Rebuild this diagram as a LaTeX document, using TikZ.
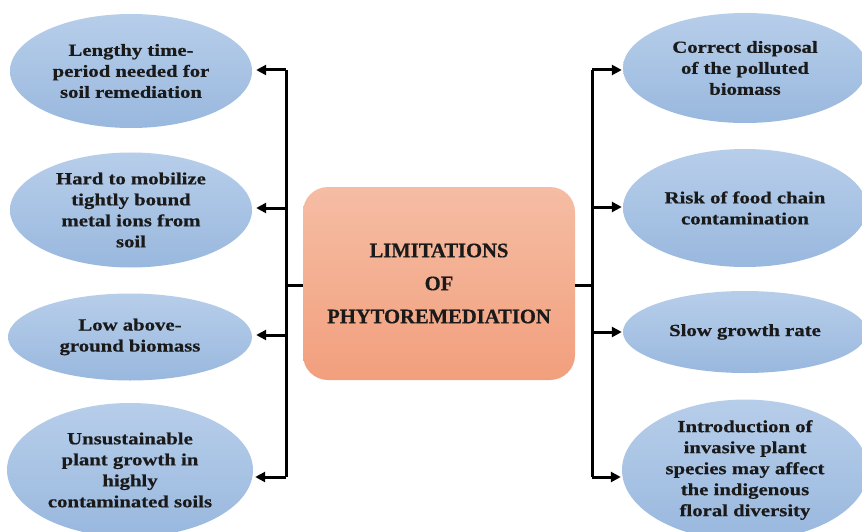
\documentclass[tikz,border=0pt]{standalone}
\usepackage{fontspec}
\setmainfont{Liberation Serif}[BoldFeatures={FakeBold=0.6}]
\newfontfamily\ellfont[FakeStretch=1.22,BoldFeatures={FakeBold=0.6}]{Liberation Serif}
\usetikzlibrary{shapes.geometric,arrows.meta}
\definecolor{ellTop}{HTML}{B7CEEA}
\definecolor{ellBot}{HTML}{99B8DE}
\definecolor{boxTop}{HTML}{F5BDA4}
\definecolor{boxBot}{HTML}{F29F7D}
\definecolor{txt}{HTML}{1A1A1A}
\begin{document}
\begin{tikzpicture}[x=1pt,y=-1pt,
  ell/.style={ellipse, inner sep=0pt, top color=ellTop, bottom color=ellBot, draw=none,
    text=txt, align=center, font=\ellfont\bfseries\fontsize{17}{21}\selectfont},
  centrebox/.style={rounded corners=25pt, minimum width=272pt, minimum height=193pt,
    top color=boxTop, bottom color=boxBot, draw=none, text=txt, align=center,
    font=\bfseries\fontsize{20.6}{33}\selectfont},
  trunk/.style={line width=3pt, black},
  arr/.style={line width=3pt, black, -{Triangle[length=10pt,width=10pt]}}]
\useasboundingbox (0,0) rectangle (862,532);
\fill[white] (0,0) rectangle (862,532);

% centre box
\node[centrebox] (box) at (439,283.5) {LIMITATIONS\\OF\\PHYTOREMEDIATION};

% left ellipses
\node[ell, minimum width=242pt, minimum height=114pt] (L1) at (131,71)
  {Lengthy time-\\period needed for\\soil remediation};
\node[ell, minimum width=242pt, minimum height=115pt] (L2) at (131,210)
  {Hard to mobilize\\tightly bound\\metal ions from\\soil};
\node[ell, minimum width=244pt, minimum height=87pt] (L3) at (130,337)
  {Low above-\\ground biomass};
\node[ell, minimum width=246pt, minimum height=134pt] (L4) at (130,470)
  {Unsustainable\\plant growth in\\highly\\contaminated soils};

% right ellipses
\node[ell, minimum width=244pt, minimum height=110pt] (R1) at (745,68)
  {Correct disposal\\of the polluted\\biomass};
\node[ell, minimum width=244pt, minimum height=118pt] (R2) at (745,208)
  {Risk of food chain\\contamination};
\node[ell, minimum width=244pt, minimum height=82pt] (R3) at (745,332)
  {Slow growth rate};
\node[ell, minimum width=246pt, minimum height=140pt] (R4) at (745,470)
  {Introduction of\\invasive plant\\species may affect\\the indigenous\\floral diversity};

% left connectors
\coordinate (lv1) at (286,70);
\coordinate (lv2) at (286,208);
\coordinate (lv3) at (286,335);
\coordinate (lv4) at (286,477);
\coordinate (lc) at (286,285);
\draw[trunk] (lv1) -- (lv4);
\draw[trunk] (box.west |- lc) -- (lc);
\draw[arr] (lv1) -- ([xshift=4pt]L1.east |- lv1);
\draw[arr] (lv2) -- ([xshift=4pt]L2.east |- lv2);
\draw[arr] (lv3) -- ([xshift=4pt]L3.east |- lv3);
\draw[arr] (lv4) -- ([xshift=2pt]L4.east |- lv4);

% right connectors
\coordinate (rv1) at (592,70);
\coordinate (rv2) at (592,207);
\coordinate (rv3) at (592,332);
\coordinate (rv4) at (592,477);
\coordinate (rc) at (592,285);
\draw[trunk] (rv1) -- (rv4);
\draw[trunk] (box.east |- rc) -- (rc);
\draw[arr] (rv1) -- ([xshift=-1pt]R1.west |- rv1);
\draw[arr] (rv2) -- ([xshift=-1pt]R2.west |- rv2);
\draw[arr] (rv3) -- ([xshift=-1pt]R3.west |- rv3);
\draw[arr] (rv4) -- ([xshift=-1pt]R4.west |- rv4);
\end{tikzpicture}
\end{document}
